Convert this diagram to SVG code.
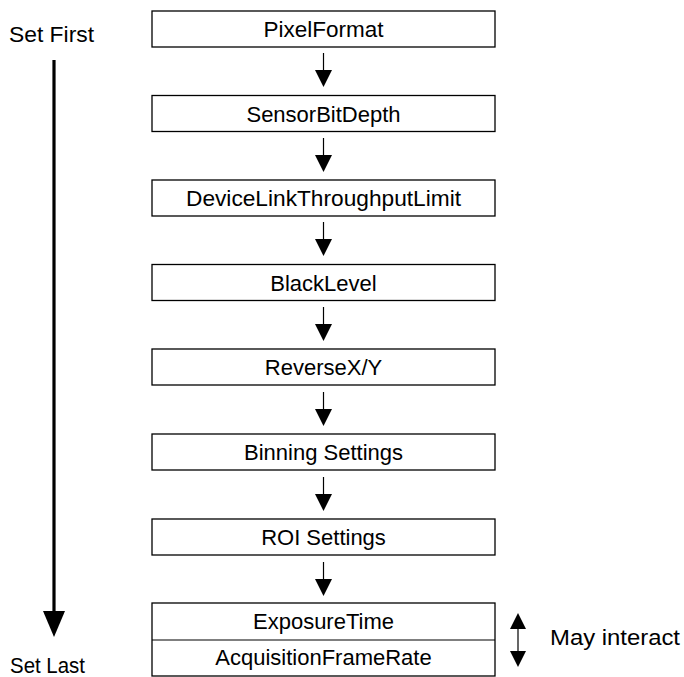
<svg xmlns="http://www.w3.org/2000/svg" width="684" height="677" viewBox="0 0 684 677">
<defs>
<style>
.box{fill:#fff;stroke:#000;stroke-width:1.3}
.t{font-family:"Liberation Sans",Arial,sans-serif;font-size:22px;fill:#000;text-anchor:middle}
.s{font-family:"Liberation Sans",Arial,sans-serif;font-size:22px;fill:#000}
.ln{stroke:#000;stroke-width:1.2;fill:none}
.hd{fill:#000}
</style>
</defs>
<rect width="684" height="677" fill="#fff"/>
<g id="connectors">
<g id="arrow-order">
<line x1="54" y1="60" x2="54" y2="614" stroke="#000" stroke-width="3.2"/>
<polygon class="hd" points="43,611 65,611 54,637"/>
</g>
<line class="ln" x1="323.5" y1="53" x2="323.5" y2="72"/><polygon class="hd" points="315,70 332,70 323.5,87"/>
<line class="ln" x1="323.5" y1="138" x2="323.5" y2="157"/><polygon class="hd" points="315,155 332,155 323.5,172"/>
<line class="ln" x1="323.5" y1="222" x2="323.5" y2="241"/><polygon class="hd" points="315,239 332,239 323.5,256"/>
<line class="ln" x1="323.5" y1="307" x2="323.5" y2="326"/><polygon class="hd" points="315,324 332,324 323.5,341"/>
<line class="ln" x1="323.5" y1="392" x2="323.5" y2="411"/><polygon class="hd" points="315,409 332,409 323.5,426"/>
<line class="ln" x1="323.5" y1="477" x2="323.5" y2="496"/><polygon class="hd" points="315,494 332,494 323.5,511"/>
<line class="ln" x1="323.5" y1="562" x2="323.5" y2="581"/><polygon class="hd" points="315,579 332,579 323.5,596"/>
<g id="arrow-interact">
<line class="ln" x1="518" y1="625" x2="518" y2="655"/>
<polygon class="hd" points="518,613 510,629 526,629"/>
<polygon class="hd" points="518,667 510,651 526,651"/>
</g>
</g>
<g id="label-first"><text class="s" x="9" y="42" textLength="85" lengthAdjust="spacingAndGlyphs">Set First</text></g>
<g id="label-last"><text class="s" x="10" y="673" textLength="75" lengthAdjust="spacingAndGlyphs">Set Last</text></g>
<g id="label-interact"><text class="s" x="550" y="645" textLength="130" lengthAdjust="spacingAndGlyphs">May interact</text></g>
<g id="n1"><rect class="box" x="152" y="11" width="343" height="36"/><text class="t" x="323.5" y="37" textLength="120" lengthAdjust="spacingAndGlyphs">PixelFormat</text></g>
<g id="n2"><rect class="box" x="152" y="95.5" width="343" height="36"/><text class="t" x="323.5" y="121.5">SensorBitDepth</text></g>
<g id="n3"><rect class="box" x="152" y="180" width="343" height="36"/><text class="t" x="323.5" y="206" textLength="275" lengthAdjust="spacingAndGlyphs">DeviceLinkThroughputLimit</text></g>
<g id="n4"><rect class="box" x="152" y="264.5" width="343" height="36"/><text class="t" x="323.5" y="290.5">BlackLevel</text></g>
<g id="n5"><rect class="box" x="152" y="349" width="343" height="36"/><text class="t" x="323.5" y="375">ReverseX/Y</text></g>
<g id="n6"><rect class="box" x="152" y="434" width="343" height="36"/><text class="t" x="323.5" y="460">Binning Settings</text></g>
<g id="n7"><rect class="box" x="152" y="519" width="343" height="36"/><text class="t" x="323.5" y="545">ROI Settings</text></g>
<g id="n8"><rect class="box" x="152" y="603" width="343" height="73"/><line class="ln" x1="152" y1="640" x2="495" y2="640"/><text class="t" x="323.5" y="629">ExposureTime</text><text class="t" x="323.5" y="665">AcquisitionFrameRate</text></g>
</svg>
